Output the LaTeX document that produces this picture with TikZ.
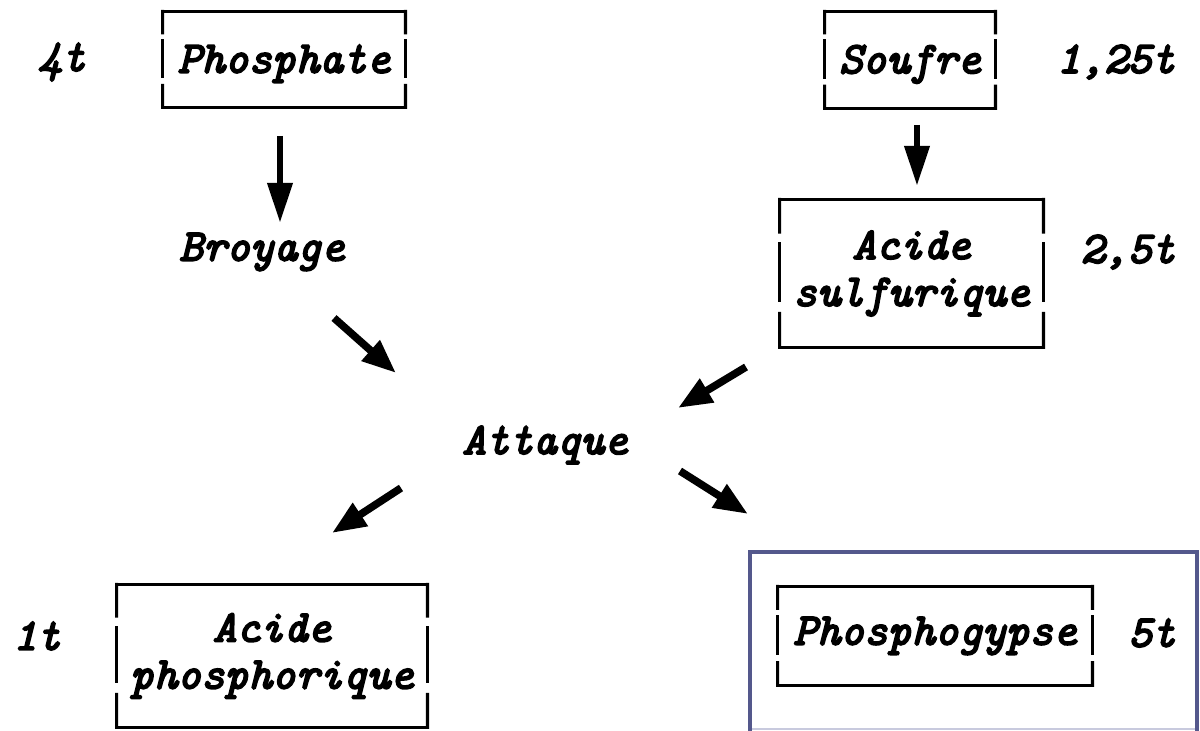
\documentclass[tikz,border=0pt]{standalone}
\usepackage{fontspec}
\newfontfamily\cour{lmmono10-italic.otf}[FakeBold=4]
\usetikzlibrary{arrows.meta,calc}
\definecolor{frameblue}{RGB}{84,88,140}
\definecolor{framelight}{RGB}{200,202,222}
\tikzset{
  lbl/.style={font=\cour\fontsize{22.5}{23.5}\selectfont, inner sep=0pt, align=center},
  capcenter/.style={text height=13.2pt, text depth=0pt},
  boxline/.style={line width=1.6pt, line cap=rect},
  bigarrow/.style={line width=3.4pt, -{Triangle[length=20pt,width=12pt]}},
  diagarrow/.style={line width=3.8pt, -{Triangle[length=17pt,width=13pt]}},
}
\newcommand\gapbox[1]{%
  \draw[boxline] (#1.north west) -- (#1.north east);
  \draw[boxline] (#1.south west) -- (#1.south east);
  \draw[boxline] (#1.north west) -- ($(#1.north west)!0.22!(#1.south west)$);
  \draw[boxline] ($(#1.north west)!0.3!(#1.south west)$) -- ($(#1.north west)!0.68!(#1.south west)$);
  \draw[boxline] ($(#1.north west)!0.77!(#1.south west)$) -- (#1.south west);
  \draw[boxline] (#1.north east) -- ($(#1.north east)!0.22!(#1.south east)$);
  \draw[boxline] ($(#1.north east)!0.3!(#1.south east)$) -- ($(#1.north east)!0.68!(#1.south east)$);
  \draw[boxline] ($(#1.north east)!0.77!(#1.south east)$) -- (#1.south east);
}
\begin{document}
\begin{tikzpicture}[x=0.5pt,y=-0.5pt]
\useasboundingbox (0,0) rectangle (1200,731);
\fill[white] (0,0) rectangle (1200,731);

% blue frame
\draw[framelight, line width=1pt] (750,729.5) -- (1197,729.5);
\draw[frameblue, line width=2pt] (750,735) -- (750,552) -- (1197,552) -- (1197,735);

% boxes
\node[lbl, capcenter, minimum width=242*0.5pt, minimum height=95*0.5pt] (phos) at (284,59.5) {Phosphate};
\node[lbl, capcenter, minimum width=170*0.5pt, minimum height=96*0.5pt] (souf) at (910,60) {Soufre};
\node[lbl, minimum width=263*0.5pt, minimum height=147*0.5pt] (asulf) at (911.5,273.5) {Acide\\sulfurique};
\node[lbl, minimum width=310*0.5pt, minimum height=142*0.5pt] (aphos) at (272,656) {Acide\\phosphorique};
\node[lbl, minimum width=314*0.5pt, minimum height=98*0.5pt] (gyps) at (935,636) {Phosphogypse};
\gapbox{phos}
\gapbox{souf}
\gapbox{asulf}
\gapbox{aphos}
\gapbox{gyps}

% plain labels
\node[lbl] (broy) at (262,252) {Broyage};
\node[lbl] (att) at (545,445) {Attaque};
\node[lbl] (q4) at (62,62) {4t};
\node[lbl] (q125) at (1116,62) {1,25t};
\node[lbl] (q25) at (1128,252) {2,5t};
\node[lbl] (q1) at (37,636) {1t};
\node[lbl] (q5) at (1152,633) {5t};

% arrow end points
\coordinate (a1s) at (280,136);
\coordinate (a1e) at (280,223);
\coordinate (a2s) at (917,125);
\coordinate (a2e) at (917,186);
\coordinate (a3s) at (334,318);
\coordinate (a3e) at (396,373);
\coordinate (a4s) at (746,367);
\coordinate (a4e) at (678,408);
\coordinate (a5s) at (401,488);
\coordinate (a5e) at (332,533);
\coordinate (a6s) at (680,471);
\coordinate (a6e) at (748,514);

\draw[bigarrow] (a1s) -- (a1e);
\draw[bigarrow] (a2s) -- (a2e);
\draw[diagarrow] (a3s) -- (a3e);
\draw[diagarrow] (a4s) -- (a4e);
\draw[diagarrow] (a5s) -- (a5e);
\draw[diagarrow] (a6s) -- (a6e);
\end{tikzpicture}
\end{document}
